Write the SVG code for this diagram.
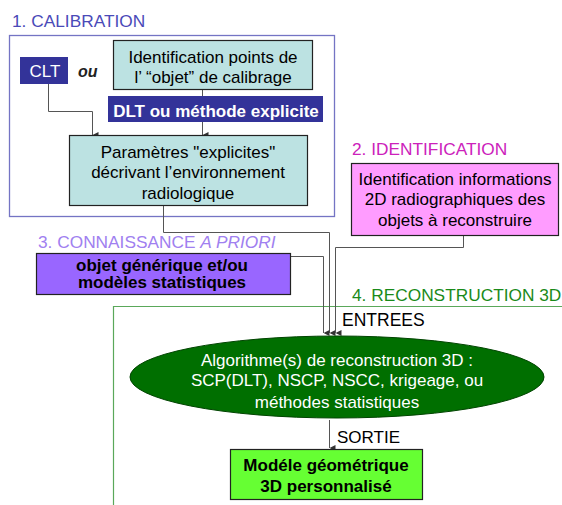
<svg xmlns="http://www.w3.org/2000/svg" width="562" height="505" viewBox="0 0 562 505">
<defs>
<marker id="ah" markerWidth="6" markerHeight="6" refX="3" refY="6" orient="auto" markerUnits="userSpaceOnUse" viewBox="0 0 6 6">
<path d="M0,0 L3,6 L6,0 Z" fill="#333"/>
</marker>
<style>
text{font-family:"Liberation Sans",Arial,sans-serif;}
.t{font-size:17px;text-anchor:middle;fill:#000;}
.w{font-size:17px;text-anchor:middle;fill:#fff;}
.b{font-weight:bold;}
.title{font-size:17.3px;}
.conn{fill:none;stroke:#555;stroke-width:1;}
.box{stroke:#222;stroke-width:1.2;}
</style>
</defs>
<rect width="562" height="505" fill="#fff"/>
<g id="frames">
<rect x="9.5" y="35.5" width="325" height="181" fill="none" stroke="#7474c4" stroke-width="1.3"/>
<text x="12" y="27" class="title" fill="#4a4ab8">1. CALIBRATION</text>
<text x="352" y="155" class="title" fill="#cc22bb">2. IDENTIFICATION</text>
<text x="38" y="248" class="title" fill="#a080f0">3. CONNAISSANCE <tspan font-style="italic">A PRIORI</tspan></text>
<path d="M113.5,505 V306.5 H562" fill="none" stroke="#5aa85a" stroke-width="1.2"/>
<text x="352" y="301" class="title" fill="#1a8a1a">4. RECONSTRUCTION 3D</text>
</g>
<g id="connectors">
<polyline class="conn" points="48.5,84 48.5,111.5 92.5,111.5 92.5,135" marker-end="url(#ah)"/>
<polyline class="conn" points="202.5,90 202.5,135" marker-end="url(#ah)"/>
<polyline class="conn" points="163.5,206 163.5,232.5 329.5,232.5 329.5,333" stroke="#777" marker-end="url(#ah)"/>
<polyline class="conn" points="290,256.5 323.5,256.5 323.5,333" stroke="#222" marker-end="url(#ah)"/>
<polyline class="conn" points="463.5,236 463.5,247.5 335.5,247.5 335.5,333" stroke="#444" marker-end="url(#ah)"/>
<polyline class="conn" points="329.5,420 329.5,448" stroke="#333" marker-end="url(#ah)"/>
<text x="342" y="326" font-size="17.5" fill="#000">ENTREES</text>
<text x="337" y="443" font-size="17" fill="#000">SORTIE</text>
</g>
<g id="clt">
<rect x="20" y="57" width="48" height="27" fill="#333399"/>
<text x="45" y="77" class="w" font-size="17.5">CLT</text>
</g>
<g id="ou">
<text x="78" y="77" font-size="16" font-style="italic" font-weight="bold" fill="#222">ou</text>
</g>
<g id="ident-points">
<rect x="113.5" y="40.5" width="199" height="49" fill="#bce2e2" class="box"/>
<text x="213" y="63" class="t">Identification points de</text>
<text x="213" y="83" class="t">l’ “objet” de calibrage</text>
</g>
<g id="dlt">
<rect x="108" y="96" width="215" height="26" fill="#333399"/>
<text x="216" y="117" class="w b" font-size="16.5">DLT ou méthode explicite</text>
</g>
<g id="parametres">
<rect x="69.5" y="135.5" width="238" height="70" fill="#bce2e2" class="box"/>
<text x="188" y="158" class="t">Paramètres "explicites"</text>
<text x="188" y="178" class="t">décrivant  l’environnement</text>
<text x="188" y="199" class="t">radiologique</text>
</g>
<g id="identification">
<rect x="351.5" y="163.5" width="207" height="72" fill="#ff9cff" class="box"/>
<text x="455" y="185" class="t">Identification informations</text>
<text x="455" y="205" class="t">2D radiographiques des</text>
<text x="455" y="226" class="t">objets à reconstruire</text>
</g>
<g id="apriori">
<rect x="36.5" y="253.5" width="254" height="41" fill="#9966ff" class="box"/>
<text x="162" y="270.5" class="t b" font-size="15">objet générique et/ou</text>
<text x="162" y="288" class="t b" font-size="15">modèles statistiques</text>
</g>
<g id="algorithme">
<ellipse cx="337" cy="377" rx="207" ry="41" fill="#006f00" stroke="#004400" stroke-width="1"/>
<text x="337" y="366" class="w">Algorithme(s) de reconstruction 3D :</text>
<text x="337" y="386" class="w">SCP(DLT), NSCP, NSCC, krigeage, ou</text>
<text x="337" y="408" class="w">méthodes statistiques</text>
</g>
<g id="modele">
<rect x="230.5" y="449.5" width="192" height="50" fill="#66ff33" class="box"/>
<text x="326" y="471" class="t b" font-size="15">Modéle géométrique</text>
<text x="326" y="492" class="t b" font-size="15">3D personnalisé</text>
</g>
</svg>
